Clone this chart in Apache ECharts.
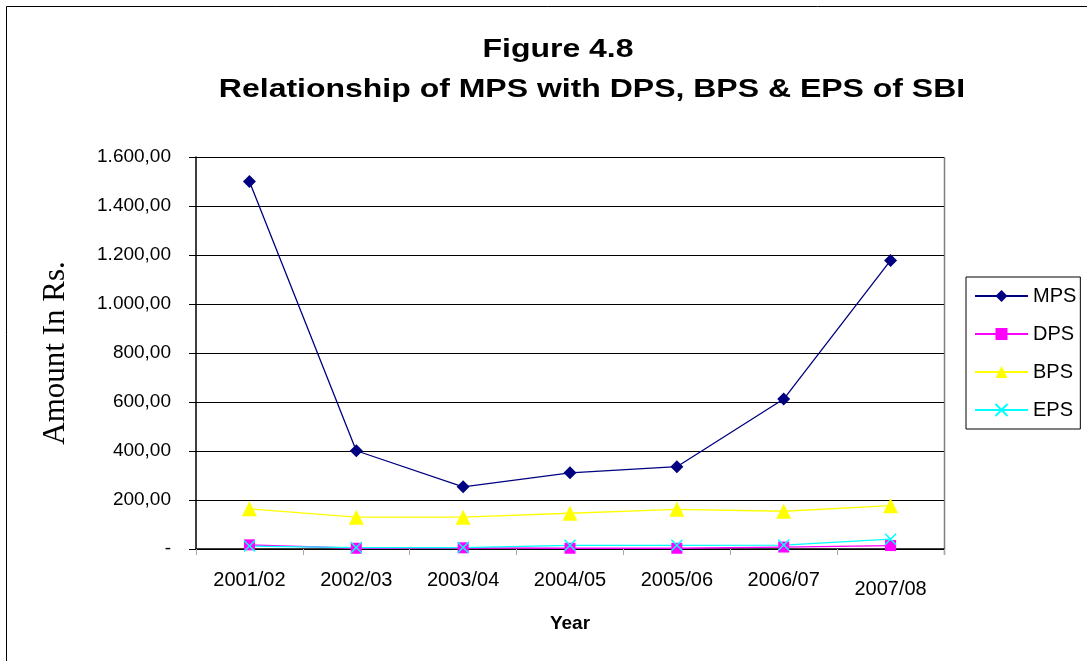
<!DOCTYPE html>
<html>
<head>
<meta charset="utf-8">
<script src="https://cdn.jsdelivr.net/npm/echarts@6/dist/echarts.min.js"></script>
<style>
  html, body { margin: 0; padding: 0; background: #fff; }
  #chart { width: 1087px; height: 661px; }
</style>
</head>
<body>
<div id="chart"></div>
<script>
// chart data
const years = ['2001/02', '2002/03', '2003/04', '2004/05', '2005/06', '2006/07', '2007/08'];
const mps = [1500, 401, 254, 311, 336, 612, 1178];
const dps = [17, 3, 5, 3, 3, 8, 14];
const bps = [164, 130, 130, 146, 162, 154, 177];
const eps = [12, 6, 6, 15, 15, 16, 40];
const yTicks = [0, 200, 400, 600, 800, 1000, 1200, 1400, 1600];

const chart = echarts.init(document.getElementById('chart'));

// 1600 -> "1.600,00", 0 -> "-"
function fmtAmount(v) {
  if (v === 0) return '-';
  const s = String(Math.round(v)).replace(/\B(?=(\d{3})+(?!\d))/g, '.');
  return s + ',00';
}

const font = 'Arial, "Liberation Sans", sans-serif';

function lineSeries(name, data, color, symbol, size, extra) {
  return Object.assign({
    name: name,
    type: 'line',
    data: data,
    symbol: symbol,
    symbolSize: size,
    showSymbol: true,
    lineStyle: { color: color, width: 1.3 },
    itemStyle: { color: color },
    emphasis: { disabled: true },
    z: 3
  }, extra || {});
}

// the source picture is a bit wide, so the title is stretched sideways
function titleText(text, x, y) {
  return {
    type: 'text',
    x: x, y: y,
    scaleX: 1.23,
    silent: true,
    style: {
      text: text,
      font: 'bold 26px Arial, "Liberation Sans", sans-serif',
      fill: '#000',
      align: 'center',
      verticalAlign: 'middle'
    }
  };
}

chart.setOption({
  animation: false,
  textStyle: { fontFamily: font },
  graphic: [
    {
      type: 'rect',
      shape: { x: 6.5, y: 6.5, width: 1090, height: 700 },
      style: { fill: 'none', stroke: '#000', lineWidth: 1 },
      silent: true
    },
    {
      type: 'line',
      shape: { x1: 944.5, y1: 157, x2: 944.5, y2: 555 },
      style: { stroke: '#808080', lineWidth: 1.5 },
      silent: true
    },
    titleText('Figure 4.8', 558, 50),
    titleText('Relationship of MPS with DPS, BPS & EPS of SBI', 592, 90)
  ],
  legend: {
    orient: 'vertical',
    left: 966, top: 277,
    padding: [9, 4, 9, 8],
    itemGap: 18,
    itemWidth: 53,
    itemHeight: 15,
    borderColor: '#000',
    borderWidth: 1,
    textStyle: { fontSize: 20, color: '#000', fontFamily: font },
    data: ['MPS', 'DPS', 'BPS', 'EPS']
  },
  grid: { left: 196, right: 143, top: 157, bottom: 112 },
  xAxis: {
    type: 'category',
    data: years,
    boundaryGap: true,
    name: 'Year',
    nameLocation: 'middle',
    nameGap: 65,
    nameTextStyle: { fontSize: 19, fontWeight: 'bold', color: '#000' },
    axisLine: { lineStyle: { color: '#000', width: 1.5 } },
    axisTick: { show: true, length: 6, lineStyle: { color: '#aaa' } },
    axisLabel: {
      interval: 0,
      fontSize: 20,
      color: '#000',
      margin: 21,
      formatter: function (v, i) { return i === years.length - 1 ? '{low|' + v + '}' : v; },
      rich: { low: { fontSize: 20, color: '#000', padding: [9, 0, 0, 0] } }
    }
  },
  yAxis: {
    type: 'value',
    min: yTicks[0],
    max: yTicks[yTicks.length - 1],
    interval: 200,
    name: 'Amount In Rs.',
    nameLocation: 'middle',
    nameGap: 125,
    nameTextStyle: { fontSize: 31, color: '#000', fontFamily: '"Times New Roman", "Liberation Serif", serif' },
    axisLine: { show: true, lineStyle: { color: '#000', width: 1.5 } },
    axisTick: { show: true, length: 7, lineStyle: { color: '#000' } },
    axisLabel: { fontSize: 19, color: '#000', margin: 25, formatter: fmtAmount },
    splitLine: { lineStyle: { color: '#000', width: 1 } }
  },
  series: [
    lineSeries('MPS', mps, '#000080', 'diamond', 13),
    lineSeries('DPS', dps, '#FF00FF', 'rect', 11),
    lineSeries('BPS', bps, '#FFFF00', 'triangle', 15),
    lineSeries('EPS', eps, '#00FFFF', 'path://M0,0L10,10M10,0L0,10', 11, {
      itemStyle: { color: 'none', borderColor: '#00FFFF', borderWidth: 1.5 }
    })
  ]
});
</script>
</body>
</html>
